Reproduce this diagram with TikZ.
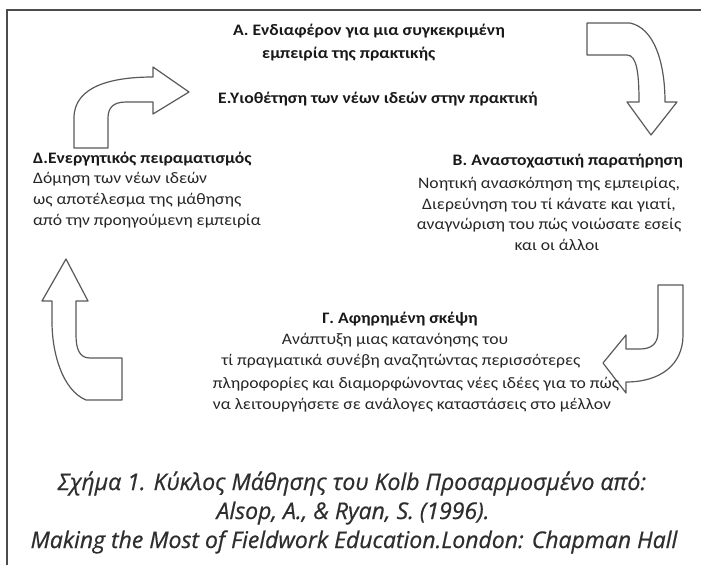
\documentclass[tikz,border=0pt]{standalone}
\usepackage{fontspec}
\setmainfont{Carlito}
\newfontfamily\diagfont[FakeStretch=1.1]{Carlito}
\newfontfamily\capfont[FakeBold=0.6,ItalicFeatures={FakeBold=0.6}]{Open Sans}
\begin{document}
\begin{tikzpicture}[x=1pt,y=-1pt,
  txt/.style={inner sep=0pt, font=\diagfont\fontsize{16}{19}\selectfont, text=black!85},
  hd/.style={inner sep=0pt, font=\diagfont\fontsize{16}{19}\selectfont\bfseries, text=black!90},
  captxt/.style={inner sep=0pt, font=\capfont\fontsize{23}{27}\selectfont\itshape, text=black!82},
  bigarrow/.style={draw=black!65, line width=1.2pt, fill=white, line join=round},
  frameline/.style={draw=black!70, line width=2pt}]
\useasboundingbox (0,0) rectangle (701,565);
\draw[frameline] (7,565) -- (7,10) -- (701,10);

% arrows
\draw[bigarrow] (74,148) -- (74,118) .. controls (74,86) and (112,77) .. (153,77)
  -- (153,67) -- (189,92) -- (153,114) -- (153,102) -- (126,102)
  .. controls (113,102) and (108,108) .. (108,118) -- (108,148) -- cycle;
\draw[bigarrow] (587,23) -- (630,23) .. controls (654,28) and (665,62) .. (665,102)
  -- (677,102) -- (651,135) -- (627,102) -- (639,102)
  .. controls (639,74) and (637,55) .. (627,55) -- (587,55) -- cycle;
\draw[bigarrow] (658,285) -- (683,285) -- (683,335) .. controls (683,365) and (660,382) .. (626,382)
  -- (626,393) -- (603,363) -- (626,335) -- (626,349) -- (640,349)
  .. controls (652,349) and (658,343) .. (658,332) -- cycle;
\draw[bigarrow] (66,259) -- (88,301) -- (76,301) -- (76,335) .. controls (76,350) and (80,358) .. (90,358)
  -- (122,358) -- (122,400) -- (86,400) .. controls (62,390) and (52,352) .. (52,322)
  -- (52,301) -- (42,301) -- cycle;

% A
\node[hd, anchor=base west] (a1) at (233,35) {Α. Ενδιαφέρον για μια συγκεκριμένη};
\node[hd, anchor=base west] (a2) at (262,58) {εμπειρία της πρακτικής};
% E
\node[hd, anchor=base west] (e1) at (218,103) {Ε.Υιοθέτηση των νέων ιδεών στην πρακτική};
% Delta
\node[hd, anchor=base west] (d0) at (33,163) {Δ.Ενεργητικός πειραματισμός};
\node[txt, anchor=base west] (d1) at (33,183) {Δόμηση των νέων ιδεών};
\node[txt, anchor=base west] (d2) at (33,204) {ως αποτέλεσμα της μάθησης};
\node[txt, anchor=base west] (d3) at (33,225) {από την προηγούμενη εμπειρία};
% B
\node[hd, anchor=base east] (b0) at (683,165) {Β. Αναστοχαστική παρατήρηση};
\node[txt, anchor=base] (b1) at (549,188) {Νοητική ανασκόπηση της εμπειρίας,};
\node[txt, anchor=base] (b2) at (549,209) {Διερεύνηση του τί κάνατε και γιατί,};
\node[txt, anchor=base] (b3) at (549,229) {αναγνώριση του πώς νοιώσατε εσείς};
\node[txt, anchor=base] (b4) at (557,250) {και οι άλλοι};
% Gamma
\node[hd, anchor=base] (g0) at (400,323) {Γ. Αφηρημένη σκέψη};
\node[txt, anchor=base] (g1) at (395,344) {Ανάπτυξη μιας κατανόησης του};
\node[txt, anchor=base] (g2) at (401,365) {τί πραγματικά συνέβη αναζητώντας περισσότερες};
\node[txt, anchor=base] (g3) at (416,388) {πληροφορίες και διαμορφώνοντας νέες ιδέες για το πώς};
\node[txt, anchor=base] (g4) at (412,409) {να λειτουργήσετε σε ανάλογες καταστάσεις στο μέλλον};
% caption
\node[captxt, anchor=base] (c1) at (352,490) {Σχήμα 1. Κύκλος Μάθησης του Kolb Προσαρμοσμένο από:};
\node[captxt, anchor=base] (c2) at (353,519) {Alsop, A., \& Ryan, S. (1996).};
\node[captxt, anchor=base] (c3) at (354,548) {Making the Most of Fieldwork Education.London: Chapman Hall};
\end{tikzpicture}
\end{document}
